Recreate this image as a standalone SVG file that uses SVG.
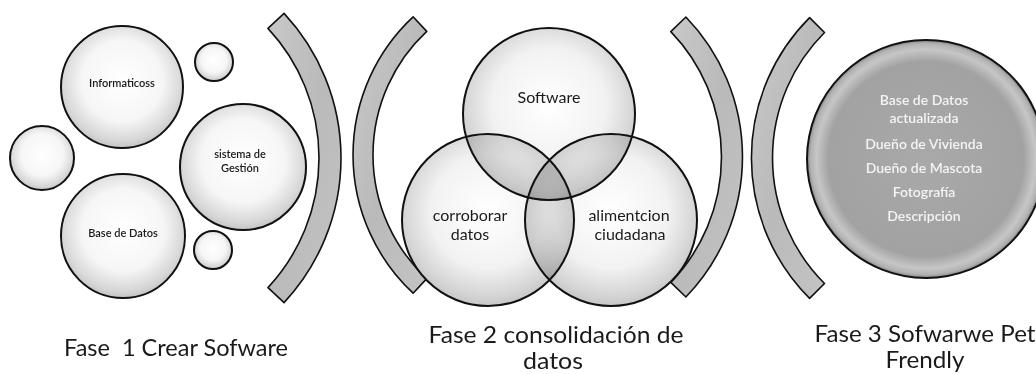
<svg xmlns="http://www.w3.org/2000/svg" width="1036" height="374" viewBox="0 0 1036 374">
  <style>
    .bub { stroke: #111; stroke-width: 2; fill: url(#gBub); }
    .venn { fill: url(#gVenn); mix-blend-mode: multiply; }
    .vline { fill: none; stroke: #111; stroke-width: 2; }
    .band { fill: url(#gBand); stroke: #111; stroke-width: 1.6; stroke-linejoin: round; }
    .t1 { font-family: Lato, "Open Sans", "Liberation Sans", sans-serif; font-size: 11px; fill: #1a1a1a; text-anchor: middle; font-weight: 600; }
    .t2 { font-family: Lato, "Open Sans", "Liberation Sans", sans-serif; font-size: 16px; fill: #1a1a1a; text-anchor: middle; }
    .t3 { font-family: Lato, "Open Sans", "Liberation Sans", sans-serif; font-size: 14px; fill: #f4f4f4; text-anchor: middle; font-weight: 600; }
    .lab { font-family: Lato, "Open Sans", "Liberation Sans", sans-serif; font-size: 23px; fill: #1a1a1a; text-anchor: middle; }
  </style>
  <defs>
    <radialGradient id="gBub" cx="0.5" cy="0.45" r="0.55">
      <stop offset="0" stop-color="#ffffff"/>
      <stop offset="0.6" stop-color="#f6f6f6"/>
      <stop offset="0.9" stop-color="#d6d6d6"/>
      <stop offset="1" stop-color="#c4c4c4"/>
    </radialGradient>
    <radialGradient id="gVenn" cx="0.5" cy="0.45" r="0.55">
      <stop offset="0" stop-color="#ffffff"/>
      <stop offset="0.6" stop-color="#f2f2f2"/>
      <stop offset="0.9" stop-color="#d4d4d4"/>
      <stop offset="1" stop-color="#c6c6c6"/>
    </radialGradient>
    <linearGradient id="gBand" x1="0" y1="0" x2="1" y2="1">
      <stop offset="0" stop-color="#c8c8c8"/>
      <stop offset="0.5" stop-color="#bababa"/>
      <stop offset="1" stop-color="#c4c4c4"/>
    </linearGradient>
    <radialGradient id="gBig" cx="0.5" cy="0.5" r="0.5">
      <stop offset="0" stop-color="#a9a9a9"/>
      <stop offset="0.82" stop-color="#a2a2a2"/>
      <stop offset="0.92" stop-color="#c6c6c6"/>
      <stop offset="0.97" stop-color="#b2b2b2"/>
      <stop offset="1" stop-color="#858585"/>
    </radialGradient>
  </defs>

  <!-- Phase 1 -->
  <g id="fase1">
    <g id="informaticoss">
      <circle class="bub" cx="122" cy="87" r="61"/>
      <text class="t1" x="122" y="87">Informaticoss</text>
    </g>
    <g id="small-top"><circle class="bub" cx="214" cy="62" r="19"/></g>
    <g id="small-left"><circle class="bub" cx="42" cy="158" r="32"/></g>
    <g id="sistema">
      <circle class="bub" cx="243" cy="167" r="63"/>
      <text class="t1" x="240" y="157.5">sistema de</text>
      <text class="t1" x="240" y="171.5">Gestión</text>
    </g>
    <g id="base-datos">
      <circle class="bub" cx="123" cy="236" r="62"/>
      <text class="t1" x="123" y="237">Base de Datos</text>
    </g>
    <g id="small-bottom"><circle class="bub" cx="213" cy="250" r="19"/></g>
  </g>

  <!-- brackets -->
  <g id="connectors">
    <path class="band" d="M 284.05 13.42 A 212 212 0 0 1 284.05 302.58 L 267.96 287.58 A 190 190 0 0 0 267.96 28.42 Z"/>
    <path class="band" d="M 413.1 16.8 A 189 189 0 0 0 413.1 293.2 L 426.74 278.6 A 169 169 0 0 1 426.74 31.4 Z"/>
    <path class="band" d="M 685.9 17.0 A 201.5 201.5 0 0 1 685.9 297.0 L 670.8 282.4 A 180.5 180.5 0 0 0 670.8 31.6 Z"/>
    <path class="band" d="M 809.6 17.6 A 198.5 198.5 0 0 0 809.6 298.4 L 824.5 283.5 A 177.5 177.5 0 0 1 824.5 32.5 Z"/>
  </g>

  <!-- Phase 2 Venn -->
  <g id="fase2">
    <g style="isolation:isolate">
      <circle class="venn" cx="549" cy="114" r="86"/>
      <circle class="venn" cx="488" cy="220" r="86"/>
      <circle class="venn" cx="611" cy="220" r="86"/>
    </g>
    <g id="software">
      <circle class="vline" cx="549" cy="114" r="86"/>
      <text class="t2" x="549" y="103">Software</text>
    </g>
    <g id="corroborar">
      <circle class="vline" cx="488" cy="220" r="86"/>
      <text class="t2" x="470" y="221">corroborar</text>
      <text class="t2" x="470" y="240">datos</text>
    </g>
    <g id="alimentcion">
      <circle class="vline" cx="611" cy="220" r="86"/>
      <text class="t2" x="629" y="221">alimentcion</text>
      <text class="t2" x="630" y="240">ciudadana</text>
    </g>
  </g>

  <!-- Phase 3 -->
  <g id="fase3">
    <circle cx="926" cy="159" r="119" fill="url(#gBig)" stroke="#111" stroke-width="2"/>
    <text class="t3" x="924" y="105">Base de Datos</text>
    <text class="t3" x="924" y="123">actualizada</text>
    <text class="t3" x="924" y="149">Dueño de Vivienda</text>
    <text class="t3" x="924" y="173">Dueño de Mascota</text>
    <text class="t3" x="924" y="197">Fotografía</text>
    <text class="t3" x="924" y="221">Descripción</text>
  </g>

  <!-- labels -->
  <g id="labels">
    <text class="lab" x="176" y="356" xml:space="preserve" textLength="224" lengthAdjust="spacingAndGlyphs">Fase  1 Crear Sofware</text>
    <text class="lab" x="556" y="343" textLength="255" lengthAdjust="spacingAndGlyphs">Fase 2 consolidación de</text>
    <text class="lab" x="553" y="369" textLength="60" lengthAdjust="spacingAndGlyphs">datos</text>
    <text class="lab" x="925" y="342" textLength="221" lengthAdjust="spacingAndGlyphs">Fase 3 Sofwarwe Pet</text>
    <text class="lab" x="925" y="368" textLength="79" lengthAdjust="spacingAndGlyphs">Frendly</text>
  </g>
</svg>
